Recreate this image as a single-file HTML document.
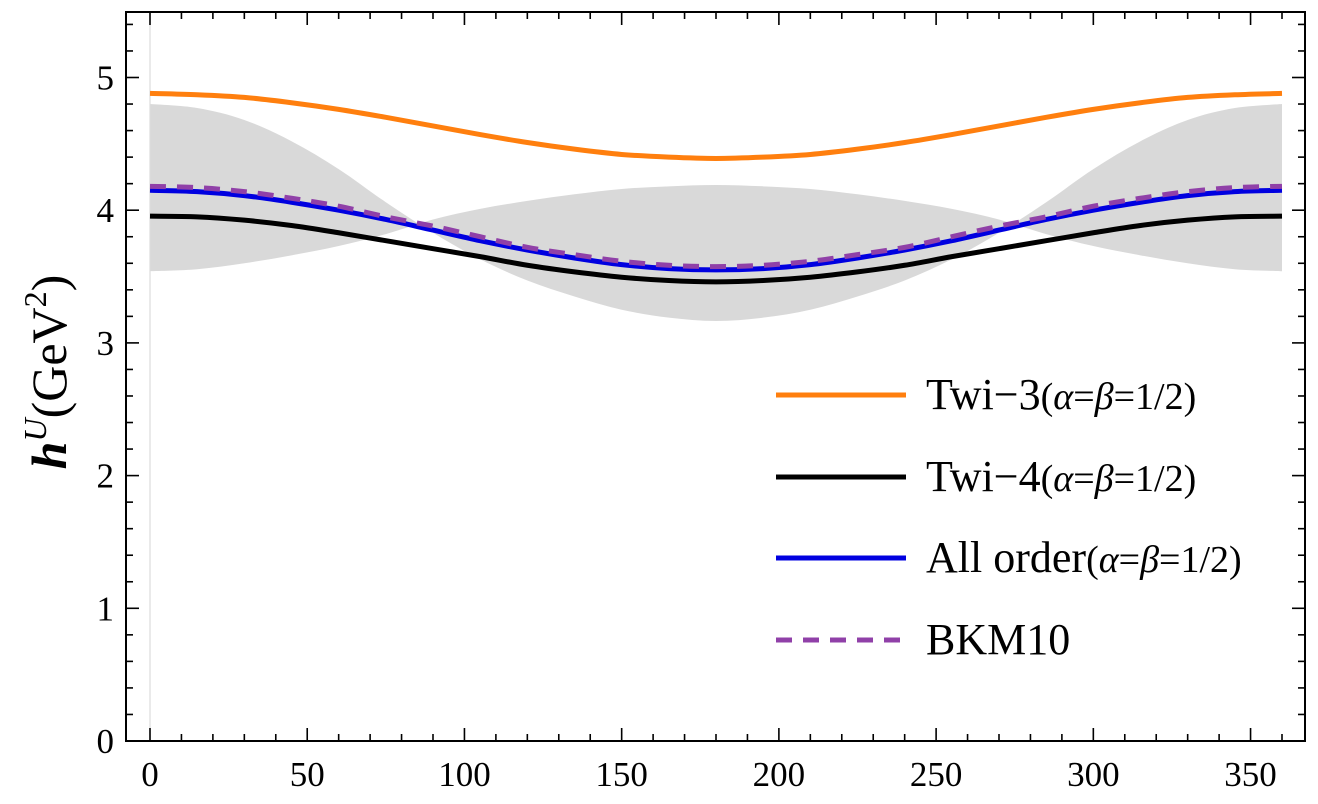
<!DOCTYPE html>
<html><head><meta charset="utf-8"><style>
body{margin:0;background:#fff;}
svg text{font-family:"Liberation Serif",serif;}
</style></head><body>
<svg id="chart" width="1318" height="799" viewBox="0 0 1318 799" xmlns="http://www.w3.org/2000/svg">
<g id="band"></g>
<line x1="150" y1="12" x2="150" y2="741" stroke="#ddd" stroke-width="1.2"/>
<g id="lines"></g>
<rect x="126" y="12" width="1179" height="729" fill="none" stroke="#000" stroke-width="2"/>
<g id="ticks"></g>
<text x="66" y="372" font-size="50" text-anchor="middle" transform="rotate(-90 66 372)"><tspan font-style="italic" font-weight="bold">h</tspan><tspan font-style="italic" font-size="32" dy="-20">U</tspan><tspan dy="20">(GeV</tspan><tspan font-size="32" dy="-20">2</tspan><tspan dy="20">)</tspan></text>
<g id="legend"></g>
</svg>
<script>
const angles=[0,15,30,45,60,75,90,105,120,135,150,165,180,195,210,225,240,255,270,285,300,315,330,345,360];
const twi3=[4.88,4.87,4.85,4.81,4.76,4.70,4.635,4.57,4.51,4.46,4.42,4.40,4.39,4.40,4.42,4.46,4.51,4.57,4.635,4.70,4.76,4.81,4.85,4.87,4.88];
const twi4=[3.955,3.95,3.925,3.885,3.83,3.77,3.71,3.65,3.585,3.535,3.495,3.47,3.46,3.47,3.495,3.535,3.585,3.65,3.71,3.77,3.83,3.885,3.925,3.95,3.955];
const allOrder=[4.15,4.14,4.11,4.06,4.00,3.93,3.85,3.77,3.70,3.64,3.59,3.56,3.55,3.56,3.59,3.64,3.70,3.77,3.85,3.93,4.00,4.06,4.11,4.14,4.15];
const bkm10=[4.18,4.17,4.14,4.09,4.03,3.95,3.88,3.80,3.72,3.665,3.615,3.585,3.575,3.585,3.615,3.665,3.72,3.80,3.88,3.95,4.03,4.09,4.14,4.17,4.18];
const bandA=[4.80,4.77,4.68,4.52,4.31,4.06,3.83,3.63,3.47,3.35,3.25,3.19,3.165,3.19,3.25,3.35,3.47,3.63,3.83,4.06,4.31,4.52,4.68,4.77,4.80];
const bandB=[3.54,3.555,3.60,3.66,3.73,3.82,3.93,4.01,4.07,4.12,4.16,4.18,4.19,4.18,4.16,4.12,4.07,4.01,3.93,3.82,3.73,3.66,3.60,3.555,3.54];
const xTicks=[0,50,100,150,200,250,300,350];
const yTicks=[0,1,2,3,4,5];
const legendLabels=[["Twi\u22123"],["Twi\u22124"],["All order"],["BKM10"]];
const NS="http://www.w3.org/2000/svg";
const X=v=>150+v*(1282-150)/360;
const Y=v=>741-v*132.7;
function pts(ys){return angles.map((a,i)=>[X(a),Y(ys[i])]);}
function smooth(p){let d="M"+p[0][0]+","+p[0][1];for(let i=0;i<p.length-1;i++){const p0=p[i-1]||p[i],p1=p[i],p2=p[i+1],p3=p[i+2]||p2;
const c1=[p1[0]+(p2[0]-p0[0])/6,p1[1]+(p2[1]-p0[1])/6],c2=[p2[0]-(p3[0]-p1[0])/6,p2[1]-(p3[1]-p1[1])/6];
d+=" C"+c1+" "+c2+" "+p2;}return d;}
function el(t,a,parent){const e=document.createElementNS(NS,t);for(const k in a)e.setAttribute(k,a[k]);parent.appendChild(e);return e;}
const band=document.getElementById('band');
const pa=pts(bandA),pb=pts(bandB).reverse();
const bd=smooth(pa)+" L"+pb[0]+" "+smooth(pb).slice(1)+" Z";
const bp=el('path',{d:bd,fill:'#d9d9d9',stroke:'none'},band);


const lines=document.getElementById('lines');
const series=[[twi3,'#ff7f0e','','twi3-line'],[twi4,'#000','','twi4-line'],[allOrder,'#0000e0','','all-order-line'],[bkm10,'#9040a8','16 11','bkm10-line']];
series.forEach(s=>{const p=el('path',{d:smooth(pts(s[0])),fill:'none',stroke:s[1],'stroke-width':5,'stroke-dasharray':s[2]},lines);

});
const tk=document.getElementById('ticks');
for(let v=0;v<=360;v+=10){const maj=v%50===0,L=maj?13:7;
el('line',{x1:X(v),y1:741,x2:X(v),y2:741-L,stroke:'#000','stroke-width':1.6},tk);
el('line',{x1:X(v),y1:12,x2:X(v),y2:12+L,stroke:'#000','stroke-width':1.6},tk);}
for(let i=0;i<=27;i++){const v=i*0.2,maj=i%5===0,L=maj?13:7,y=Y(v);if(y<12)continue;
el('line',{x1:126,y1:y,x2:126+L,y2:y,stroke:'#000','stroke-width':1.6},tk);
el('line',{x1:1305,y1:y,x2:1305-L,y2:y,stroke:'#000','stroke-width':1.6},tk);}
xTicks.forEach(v=>{const t=el('text',{x:X(v),y:786,'font-size':35,'text-anchor':'middle'},tk);t.textContent=v;

});
yTicks.forEach(v=>{const t=el('text',{x:114,y:Y(v)+12,'font-size':35,'text-anchor':'end'},tk);t.textContent=v;

});
const lg=document.getElementById('legend');
const ly=[395,477,558,640];
series.forEach((s,i)=>{
el('line',{x1:776,y1:ly[i],x2:906,y2:ly[i],stroke:s[1],'stroke-width':5,'stroke-dasharray':s[2]},lg);
const t=el('text',{x:926,y:ly[i]+14,'font-size':44},lg);


const a=el('tspan',{},t);a.textContent=legendLabels[i][0];
if(i<3){const b=el('tspan',{'font-size':38},t);
b.innerHTML='(<tspan font-style="italic">\u03b1</tspan>=<tspan font-style="italic">\u03b2</tspan>=1/2)';}
});
</script>
</body></html>
